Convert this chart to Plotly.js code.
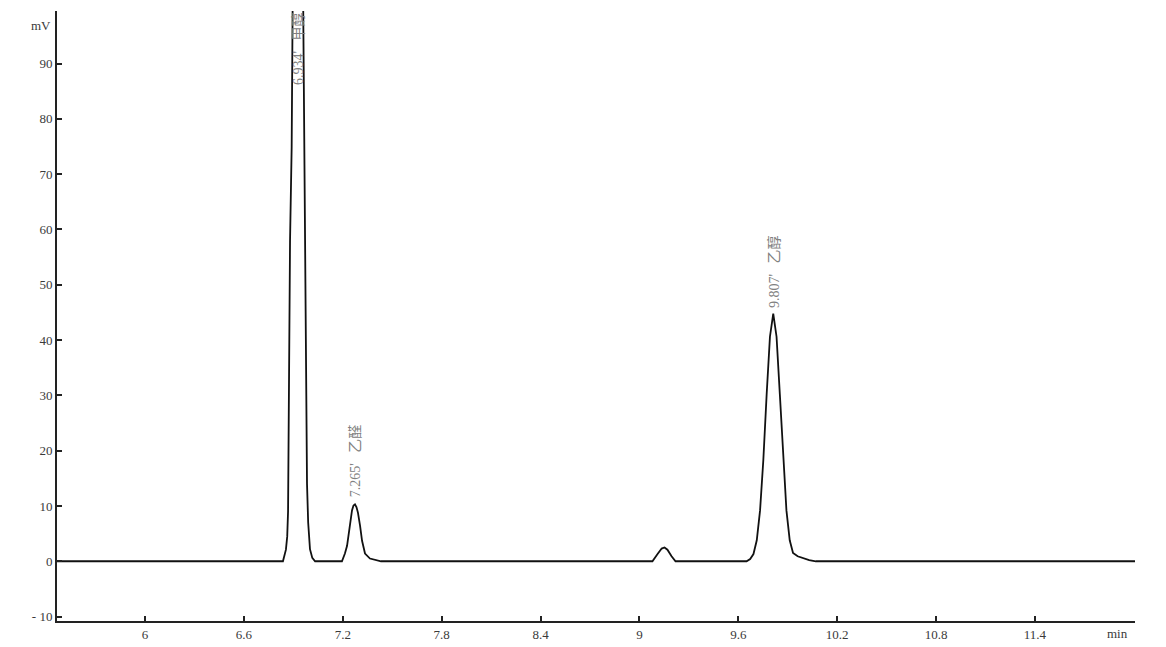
<!DOCTYPE html>
<html>
<head>
<meta charset="utf-8">
<script src="https://cdn.plot.ly/plotly-3.0.1.min.js"></script>
<style>html,body{margin:0;padding:0;background:#fff;}#chart{width:1166px;height:647px;}</style>
</head>
<body>
<div id="chart"></div>
<script>
// retention time (min) and detector signal (mV)
const timeMin = [
  5.466, 6.837, 6.855, 6.863, 6.868, 6.874, 6.880, 6.890, 6.897, 6.930, 6.960, 6.970, 6.978, 6.983, 6.990, 7.001, 7.015, 7.032,
  7.195, 7.213, 7.226, 7.238, 7.256, 7.265, 7.274, 7.283, 7.292, 7.305, 7.317, 7.335, 7.365, 7.432,
  9.079, 9.110, 9.135, 9.152, 9.170, 9.195, 9.219,
  9.650, 9.672, 9.692, 9.712, 9.732, 9.752, 9.772, 9.792, 9.812, 9.832, 9.852, 9.872, 9.892, 9.912, 9.932, 9.960, 9.990, 10.030, 10.070, 12.007
];
const signalMv = [
  0, 0, 2.1, 4.5, 9, 30, 58, 75, 100, 250, 100, 60, 30, 14, 7, 2.2, 0.6, 0,
  0, 1.4, 2.8, 5.5, 9.2, 10.1, 10.3, 9.8, 8.8, 6.4, 3.7, 1.4, 0.5, 0,
  0, 1.3, 2.3, 2.5, 2.1, 0.9, 0,
  0, 0.4, 1.3, 3.8, 9.2, 18.4, 30.2, 40.6, 44.8, 40.6, 30.2, 18.4, 9.2, 3.8, 1.5, 0.9, 0.6, 0.2, 0, 0
];
// peak labels
const peakTimes = [6.930, 7.274, 9.812];
const peakLabelBase = [85.7, 11.3, 45.4];
const peakLabels = ["6.934'   甲醇", "7.265'   乙醛", "9.807'   乙醇"];
// axis ticks
const xTickVals = [6, 6.6, 7.2, 7.8, 8.4, 9, 9.6, 10.2, 10.8, 11.4];
const xTickText = ["6", "6.6", "7.2", "7.8", "8.4", "9", "9.6", "10.2", "10.8", "11.4"];
const yTickVals = [-10, 0, 10, 20, 30, 40, 50, 60, 70, 80, 90];
const yTickText = ["- 10", "0", "10", "20", "30", "40", "50", "60", "70", "80", "90"];

const tickFont = {family: "Liberation Serif, Noto Sans CJK SC, serif", size: 13, color: "#3a3a3a"};
const labelFont = {family: "Liberation Serif, Noto Sans CJK SC, serif", size: 14, color: "#808080"};

const annotations = peakTimes.map((t, i) => ({
  x: t, y: peakLabelBase[i], xref: "x", yref: "y",
  text: peakLabels[i], textangle: -90, showarrow: false,
  xanchor: "center", yanchor: "bottom", font: labelFont
}));
annotations.push({xref: "paper", yref: "paper", x: -0.004, y: 0.977, xanchor: "right", yanchor: "middle",
  text: "mV", showarrow: false, font: tickFont});
annotations.push({xref: "paper", yref: "paper", x: 0.984, y: -0.02, xanchor: "center", yanchor: "middle",
  text: "min", showarrow: false, font: tickFont});

Plotly.newPlot("chart", [{
  x: timeMin, y: signalMv, type: "scatter", mode: "lines",
  line: {color: "#111", width: 1.8}, hoverinfo: "skip"
}], {
  width: 1166, height: 647,
  margin: {l: 57, r: 31, t: 11, b: 26},
  paper_bgcolor: "#fff", plot_bgcolor: "#fff",
  showlegend: false,
  xaxis: {
    range: [5.466, 12.007], tickvals: xTickVals, ticktext: xTickText,
    ticks: "inside", ticklen: 5, tickwidth: 2, tickcolor: "#222",
    showline: true, linecolor: "#222", linewidth: 2, showgrid: false, zeroline: false,
    tickfont: tickFont
  },
  yaxis: {
    range: [-10.8, 99.5], tickvals: yTickVals, ticktext: yTickText,
    ticks: "inside", ticklen: 5, tickwidth: 2, tickcolor: "#222",
    showline: true, linecolor: "#222", linewidth: 2, showgrid: false, zeroline: false,
    tickfont: tickFont
  },
  annotations: annotations
}, {staticPlot: true});
</script>
</body>
</html>
